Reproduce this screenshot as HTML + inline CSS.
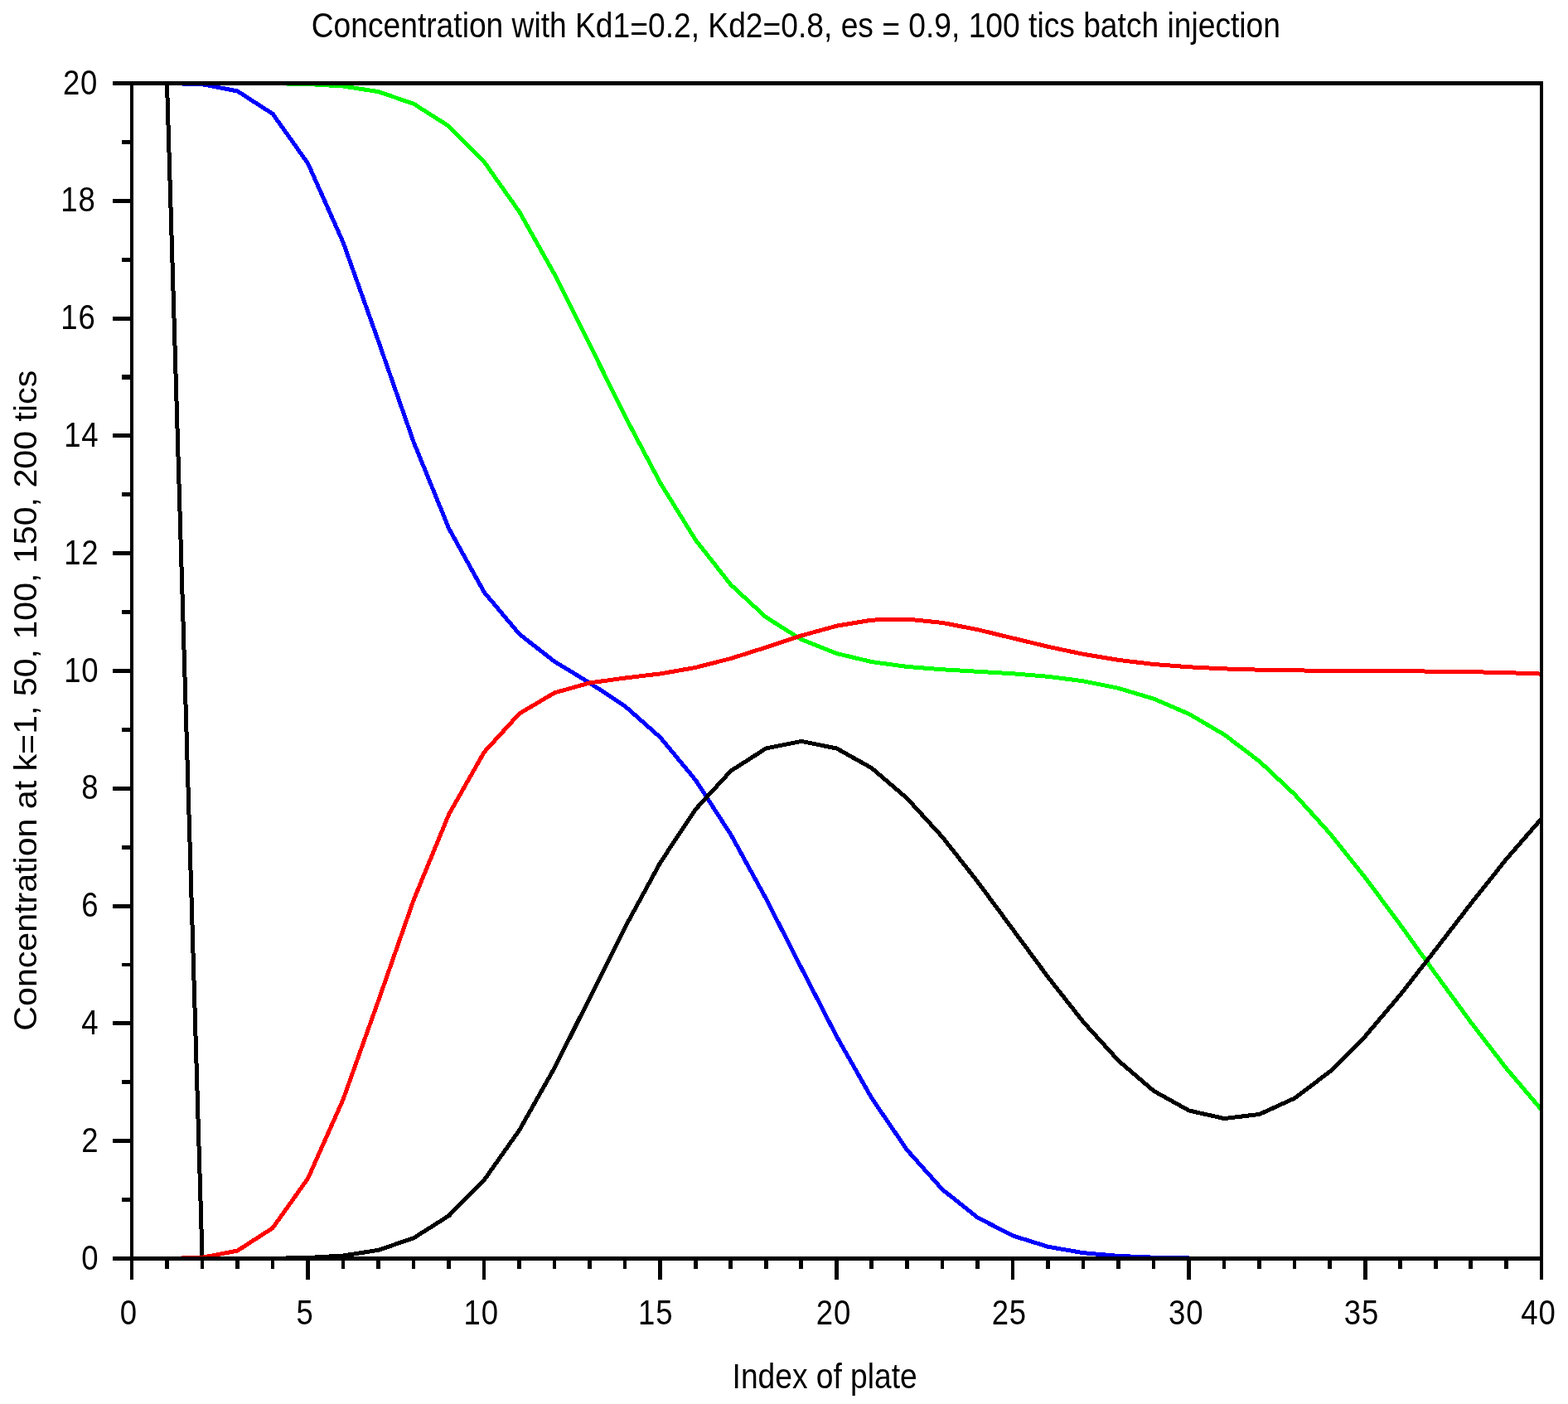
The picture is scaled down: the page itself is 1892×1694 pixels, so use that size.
<!DOCTYPE html>
<html lang="en"><head><meta charset="utf-8"><title>Concentration plot</title>
<style>html,body{margin:0;padding:0;background:#fff}body{width:1892px;height:1694px;overflow:hidden}svg{display:block}text{font-family:"Liberation Sans",sans-serif;fill:#000}</style>
</head><body>
<svg width="1892" height="1694" viewBox="0 0 1892 1694">
<rect width="1892" height="1694" fill="#fff"/>
<g fill="none" stroke-width="5" stroke-linejoin="round" stroke-linecap="butt" shape-rendering="crispEdges">
<polyline stroke="#000000" points="201.5,100.5 244.1,1518.5 286.6,1518.5 329.1,1518.5 371.6,1518.5 414.1,1518.5 456.7,1518.5 499.2,1518.5 541.7,1518.5 584.2,1518.5 626.8,1518.5 669.3,1518.5 711.8,1518.5 754.4,1518.5 796.9,1518.5 839.4,1518.5 881.9,1518.5 924.5,1518.5 967.0,1518.5 1009.5,1518.5 1052.0,1518.5 1094.5,1518.5 1137.1,1518.5 1179.6,1518.5 1222.1,1518.5 1264.7,1518.5 1307.2,1518.5 1349.7,1518.5 1392.2,1518.5 1434.8,1518.5 1477.3,1518.5 1519.8,1518.5 1562.3,1518.5 1604.8,1518.5 1647.4,1518.5 1689.9,1518.5 1732.4,1518.5 1775.0,1518.5 1817.5,1518.5 1860.0,1518.5"/>
<polyline stroke="#0000ff" points="201.5,100.5 244.1,101.7 286.6,110.0 329.1,137.4 371.6,197.2 414.1,292.6 456.7,412.0 499.2,533.6 541.7,637.7 584.2,714.5 626.8,765.2 669.3,798.3 711.8,824.1 754.4,852.2 796.9,889.9 839.4,941.3 881.9,1007.1 924.5,1084.6 967.0,1168.0 1009.5,1250.5 1052.0,1325.2 1094.5,1387.5 1137.1,1435.2 1179.6,1469.0 1222.1,1491.0 1264.7,1504.3 1307.2,1511.7 1349.7,1515.4 1392.2,1517.2 1434.8,1518.0 1477.3,1518.3 1519.8,1518.4 1562.3,1518.5 1604.8,1518.5 1647.4,1518.5 1689.9,1518.5 1732.4,1518.5 1775.0,1518.5 1817.5,1518.5 1860.0,1518.5"/>
<polyline stroke="#00ff00" points="201.5,100.5 244.1,100.5 286.6,100.5 329.1,100.7 371.6,101.5 414.1,104.0 456.7,110.7 499.2,125.3 541.7,152.3 584.2,195.3 626.8,255.7 669.3,331.3 711.8,416.2 754.4,502.6 796.9,583.0 839.4,651.6 881.9,705.6 924.5,744.9 967.0,771.6 1009.5,788.5 1052.0,798.6 1094.5,804.4 1137.1,807.8 1179.6,810.3 1222.1,812.8 1264.7,816.3 1307.2,821.8 1349.7,830.4 1392.2,843.2 1434.8,861.5 1477.3,886.4 1519.8,918.7 1562.3,958.6 1604.8,1005.7 1647.4,1058.9 1689.9,1116.2 1732.4,1175.3 1775.0,1233.7 1817.5,1288.9 1860.0,1339.0"/>
<polyline stroke="#ff0000" points="201.5,1518.5 244.1,1517.3 286.6,1509.0 329.1,1481.6 371.6,1421.8 414.1,1326.4 456.7,1207.1 499.2,1085.7 541.7,982.4 584.2,907.5 626.8,860.9 669.3,835.8 711.8,823.9 754.4,818.0 796.9,812.9 839.4,805.4 881.9,794.5 924.5,781.0 967.0,766.9 1009.5,755.2 1052.0,748.1 1094.5,747.0 1137.1,751.4 1179.6,759.7 1222.1,770.0 1264.7,780.3 1307.2,789.3 1349.7,796.4 1392.2,801.5 1434.8,804.8 1477.3,806.9 1519.8,808.2 1562.3,808.9 1604.8,809.3 1647.4,809.5 1689.9,809.8 1732.4,810.1 1775.0,810.7 1817.5,811.6 1860.0,813.1"/>
<polyline stroke="#000000" points="201.5,1518.5 244.1,1518.5 286.6,1518.5 329.1,1518.3 371.6,1517.5 414.1,1515.0 456.7,1508.3 499.2,1493.7 541.7,1466.8 584.2,1423.7 626.8,1363.4 669.3,1288.1 711.8,1203.7 754.4,1118.5 796.9,1040.5 839.4,976.4 881.9,930.1 924.5,902.9 967.0,894.4 1009.5,903.0 1052.0,926.8 1094.5,963.3 1137.1,1009.9 1179.6,1063.8 1222.1,1121.4 1264.7,1179.1 1307.2,1233.1 1349.7,1279.9 1392.2,1316.3 1434.8,1340.0 1477.3,1349.6 1519.8,1344.4 1562.3,1325.0 1604.8,1292.8 1647.4,1250.2 1689.9,1200.0 1732.4,1145.5 1775.0,1090.1 1817.5,1036.7 1860.0,987.7"/>
</g>
<g fill="#000" shape-rendering="crispEdges">
<rect x="136" y="98" width="1726" height="5"/>
<rect x="136" y="1516" width="1726" height="5"/>
<rect x="157" y="98" width="4" height="1446"/>
<rect x="1858" y="98" width="4" height="1446"/>
<rect x="199" y="1521" width="5" height="10"/>
<rect x="242" y="1521" width="4" height="10"/>
<rect x="284" y="1521" width="5" height="10"/>
<rect x="327" y="1521" width="4" height="10"/>
<rect x="369" y="1521" width="5" height="23"/>
<rect x="412" y="1521" width="4" height="10"/>
<rect x="454" y="1521" width="5" height="10"/>
<rect x="497" y="1521" width="4" height="10"/>
<rect x="539" y="1521" width="5" height="10"/>
<rect x="582" y="1521" width="4" height="23"/>
<rect x="624" y="1521" width="5" height="10"/>
<rect x="667" y="1521" width="4" height="10"/>
<rect x="709" y="1521" width="5" height="10"/>
<rect x="752" y="1521" width="4" height="10"/>
<rect x="794" y="1521" width="5" height="23"/>
<rect x="837" y="1521" width="5" height="10"/>
<rect x="879" y="1521" width="5" height="10"/>
<rect x="922" y="1521" width="5" height="10"/>
<rect x="964" y="1521" width="5" height="10"/>
<rect x="1007" y="1521" width="5" height="23"/>
<rect x="1049" y="1521" width="5" height="10"/>
<rect x="1092" y="1521" width="5" height="10"/>
<rect x="1135" y="1521" width="4" height="10"/>
<rect x="1177" y="1521" width="5" height="10"/>
<rect x="1220" y="1521" width="4" height="23"/>
<rect x="1262" y="1521" width="5" height="10"/>
<rect x="1305" y="1521" width="4" height="10"/>
<rect x="1347" y="1521" width="5" height="10"/>
<rect x="1390" y="1521" width="4" height="10"/>
<rect x="1432" y="1521" width="5" height="23"/>
<rect x="1475" y="1521" width="4" height="10"/>
<rect x="1517" y="1521" width="5" height="10"/>
<rect x="1560" y="1521" width="4" height="10"/>
<rect x="1602" y="1521" width="5" height="10"/>
<rect x="1645" y="1521" width="5" height="23"/>
<rect x="1687" y="1521" width="5" height="10"/>
<rect x="1730" y="1521" width="5" height="10"/>
<rect x="1772" y="1521" width="5" height="10"/>
<rect x="1815" y="1521" width="5" height="10"/>
<rect x="147" y="1445" width="10" height="5"/>
<rect x="136" y="1374" width="21" height="5"/>
<rect x="147" y="1303" width="10" height="5"/>
<rect x="136" y="1232" width="21" height="5"/>
<rect x="147" y="1162" width="10" height="4"/>
<rect x="136" y="1091" width="21" height="5"/>
<rect x="147" y="1020" width="10" height="5"/>
<rect x="136" y="949" width="21" height="5"/>
<rect x="147" y="878" width="10" height="5"/>
<rect x="136" y="807" width="21" height="5"/>
<rect x="147" y="736" width="10" height="5"/>
<rect x="136" y="665" width="21" height="5"/>
<rect x="147" y="594" width="10" height="5"/>
<rect x="136" y="523" width="21" height="5"/>
<rect x="147" y="452" width="10" height="6"/>
<rect x="136" y="382" width="21" height="5"/>
<rect x="147" y="311" width="10" height="5"/>
<rect x="136" y="240" width="21" height="5"/>
<rect x="147" y="169" width="10" height="5"/>
</g>
<text transform="translate(375.70 45.00) scale(0.8860 1)" font-size="42.00" text-anchor="start" xml:space="preserve">Concentration with Kd1<tspan dy="3.5">=</tspan><tspan dy="-3.5">0.2, Kd2</tspan><tspan dy="3.5">=</tspan><tspan dy="-3.5">0.8, es </tspan><tspan dy="3.5">=</tspan><tspan dy="-3.5"> 0.9, 100 tics batch injection</tspan></text>
<text transform="translate(883.60 1675.00) scale(0.8850 1)" font-size="42.00" text-anchor="start" xml:space="preserve">Index of plate</text>
<text transform="translate(43.90 1243.70) rotate(-90) scale(1.0716 1)" font-size="38.40" text-anchor="start" xml:space="preserve">Concentration at k<tspan dy="3.5">=</tspan><tspan dy="-3.5">1, 50, 100, 150, 200 tics</tspan></text>
<text transform="translate(155.40 1597.50) scale(0.8600 1)" font-size="42.50" text-anchor="middle" xml:space="preserve" letter-spacing="1">0</text>
<text transform="translate(368.02 1597.50) scale(0.8600 1)" font-size="42.50" text-anchor="middle" xml:space="preserve" letter-spacing="1">5</text>
<text transform="translate(580.65 1597.50) scale(0.8600 1)" font-size="42.50" text-anchor="middle" xml:space="preserve" letter-spacing="1">10</text>
<text transform="translate(791.27 1597.50) scale(0.8600 1)" font-size="42.50" text-anchor="middle" xml:space="preserve" letter-spacing="1">15</text>
<text transform="translate(1005.90 1597.50) scale(0.8600 1)" font-size="42.50" text-anchor="middle" xml:space="preserve" letter-spacing="1">20</text>
<text transform="translate(1217.83 1597.50) scale(0.8600 1)" font-size="42.50" text-anchor="middle" xml:space="preserve" letter-spacing="1">25</text>
<text transform="translate(1431.15 1597.50) scale(0.8600 1)" font-size="42.50" text-anchor="middle" xml:space="preserve" letter-spacing="1">30</text>
<text transform="translate(1642.98 1597.50) scale(0.8600 1)" font-size="42.50" text-anchor="middle" xml:space="preserve" letter-spacing="1">35</text>
<text transform="translate(1856.40 1597.50) scale(0.8600 1)" font-size="42.50" text-anchor="middle" xml:space="preserve" letter-spacing="1">40</text>
<text transform="translate(119.50 1531.50) scale(0.8600 1)" font-size="42.50" text-anchor="end" xml:space="preserve" letter-spacing="1">0</text>
<text transform="translate(119.50 1389.70) scale(0.8600 1)" font-size="42.50" text-anchor="end" xml:space="preserve" letter-spacing="1">2</text>
<text transform="translate(119.50 1247.90) scale(0.8600 1)" font-size="42.50" text-anchor="end" xml:space="preserve" letter-spacing="1">4</text>
<text transform="translate(119.50 1106.10) scale(0.8600 1)" font-size="42.50" text-anchor="end" xml:space="preserve" letter-spacing="1">6</text>
<text transform="translate(119.50 964.30) scale(0.8600 1)" font-size="42.50" text-anchor="end" xml:space="preserve" letter-spacing="1">8</text>
<text transform="translate(119.50 822.50) scale(0.8600 1)" font-size="42.50" text-anchor="end" xml:space="preserve" letter-spacing="1">10</text>
<text transform="translate(119.50 680.70) scale(0.8600 1)" font-size="42.50" text-anchor="end" xml:space="preserve" letter-spacing="1">12</text>
<text transform="translate(119.50 538.90) scale(0.8600 1)" font-size="42.50" text-anchor="end" xml:space="preserve" letter-spacing="1">14</text>
<text transform="translate(115.70 397.10) scale(0.8600 1)" font-size="42.50" text-anchor="end" xml:space="preserve" letter-spacing="1">16</text>
<text transform="translate(115.70 255.30) scale(0.8600 1)" font-size="42.50" text-anchor="end" xml:space="preserve" letter-spacing="1">18</text>
<text transform="translate(118.30 113.50) scale(0.8600 1)" font-size="42.50" text-anchor="end" xml:space="preserve" letter-spacing="1">20</text>
</svg>
</body></html>
